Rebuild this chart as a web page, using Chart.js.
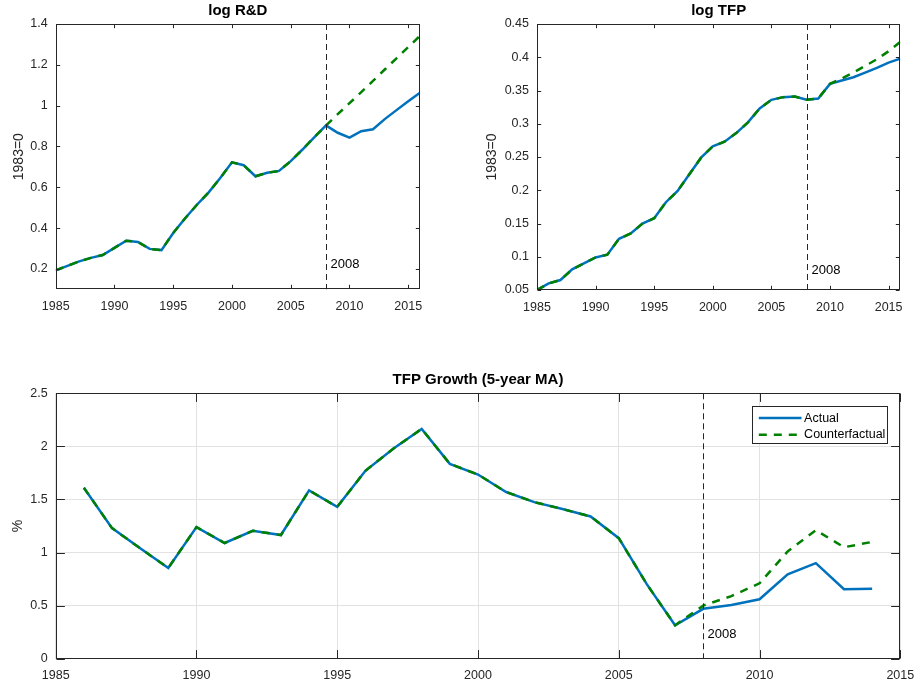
<!DOCTYPE html>
<html><head><meta charset="utf-8">
<script src="https://cdn.jsdelivr.net/npm/chart.js@4/dist/chart.umd.min.js"></script>
<style>
html,body{margin:0;padding:0;background:#fff;width:914px;height:685px;overflow:hidden;position:relative;}
canvas{position:absolute;}
#c1{left:0;top:0;} #c2{left:457px;top:0;} #c3{left:0;top:360px;}
</style></head><body>
<canvas id="c1" width="440" height="320"></canvas>
<canvas id="c2" width="457" height="320"></canvas>
<canvas id="c3" width="914" height="325"></canvas>
<script>
// ---------- data ----------
const years = [1985,1986,1987,1988,1989,1990,1991,1992,1993,1994,1995,1996,1997,1998,1999,2000,
               2001,2002,2003,2004,2005,2006,2007,2008,2009,2010,2011,2012,2013,2014,2015,2016];
const rdActual = [0.193,0.215,0.237,0.254,0.268,0.303,0.338,0.332,0.298,0.292,0.376,0.447,0.513,0.574,0.645,0.722,
                  0.708,0.654,0.671,0.680,0.728,0.785,0.845,0.903,0.867,0.843,0.875,0.884,0.934,0.978,1.022,1.063];
const rdCounterfactual = [0.193,0.215,0.237,0.254,0.268,0.303,0.338,0.332,0.298,0.292,0.376,0.447,0.513,0.574,0.645,0.722,
                  0.708,0.654,0.671,0.680,0.728,0.785,0.845,0.903,0.958,1.012,1.066,1.121,1.177,1.232,1.287,1.342];
const tfpActual = [0.050,0.060,0.065,0.081,0.090,0.099,0.103,0.127,0.135,0.150,0.158,0.182,0.199,0.224,0.249,0.266,
                   0.273,0.286,0.302,0.323,0.336,0.340,0.341,0.336,0.338,0.360,0.365,0.370,0.377,0.384,0.392,0.398];
const tfpCounterfactual = [0.050,0.060,0.065,0.081,0.090,0.099,0.103,0.127,0.135,0.150,0.158,0.182,0.199,0.224,0.249,0.266,
                   0.273,0.286,0.302,0.323,0.336,0.340,0.341,0.336,0.338,0.360,0.368,0.377,0.387,0.397,0.409,0.423];
const growthYears = [1986,1987,1988,1989,1990,1991,1992,1993,1994,1995,1996,1997,1998,1999,2000,
                     2001,2002,2003,2004,2005,2006,2007,2008,2009,2010,2011,2012,2013,2014];
const growthActual = [1.61,1.23,1.04,0.855,1.24,1.09,1.205,1.165,1.585,1.43,1.77,1.98,2.165,1.835,1.735,
                      1.57,1.475,1.41,1.34,1.135,0.70,0.315,0.47,0.505,0.56,0.795,0.90,0.655,0.66];
const growthCounterfactual = [1.61,1.23,1.04,0.855,1.24,1.09,1.205,1.165,1.585,1.43,1.77,1.98,2.165,1.835,1.735,
                      1.57,1.475,1.41,1.34,1.135,0.70,0.315,0.50,0.59,0.71,1.01,1.21,1.05,1.10];
const topXTicks = [1985,1990,1995,2000,2005,2010,2015];
const bottomXTicks = [1985,1990,1995,2000,2005,2010,2015];
const rdYTicks = [0.2,0.4,0.6,0.8,1,1.2,1.4];
const tfpYTicks = [0.05,0.1,0.15,0.2,0.25,0.3,0.35,0.4,0.45];
const growthYTicks = [0,0.5,1,1.5,2,2.5];
const breakYear = 2008;
const seriesNames = ['Actual','Counterfactual'];

// ---------- styling ----------
const FONT = '"Liberation Sans", Arial, Helvetica, sans-serif';
const BLUE = '#0072BD', GREEN = '#008000', AX = '#262626';
Chart.defaults.font.family = FONT;

const framePlugin = {
  id: 'frame',
  afterDatasetsDraw(chart, args, o) {
    const {ctx, chartArea: a} = chart;
    const x = chart.scales.x, y = chart.scales.y;
    ctx.save();
    // 2008 vertical line
    const px = Math.round(x.getPixelForValue(o.vline)) + 0.5;
    ctx.strokeStyle = AX; ctx.lineWidth = 1; ctx.setLineDash([6,4]);
    ctx.beginPath(); ctx.moveTo(px, a.top); ctx.lineTo(px, a.bottom); ctx.stroke();
    ctx.setLineDash([]);
    ctx.fillStyle = '#000'; ctx.font = '13px ' + FONT; ctx.textBaseline = 'middle'; ctx.textAlign = 'left';
    ctx.fillText(String(o.vline), px + 4, y.getPixelForValue(o.labelY));
    // box
    const L = Math.round(a.left)+0.5, R = Math.round(a.right)-0.5, T = Math.round(a.top)+0.5, B = Math.round(a.bottom)-0.5;
    ctx.strokeStyle = AX; ctx.lineWidth = 1;
    ctx.strokeRect(L, T, R-L, B-T);
    const tl = o.tickLen;
    ctx.beginPath();
    x.ticks.forEach(t => {
      const p = Math.round(x.getPixelForValue(t.value)) + 0.5;
      ctx.moveTo(p, B); ctx.lineTo(p, B - tl);
      ctx.moveTo(p, T); ctx.lineTo(p, T + tl);
    });
    y.ticks.forEach(t => {
      const p = Math.round(y.getPixelForValue(t.value)) + 0.5;
      ctx.moveTo(L, p); ctx.lineTo(L + tl, p);
      ctx.moveTo(R, p); ctx.lineTo(R - tl, p);
    });
    ctx.stroke();
    // legend
    if (o.legend) {
      const bw = 135, bh = 37;
      const bx = Math.round(a.right - 13.6 - bw) + 0.5, by = Math.round(a.top + 12.4) + 0.5;
      ctx.fillStyle = '#fff'; ctx.fillRect(bx, by, bw, bh);
      ctx.strokeStyle = AX; ctx.lineWidth = 1; ctx.strokeRect(bx, by, bw, bh);
      chart.data.datasets.slice().sort((d1,d2)=>d1.legendIndex-d2.legendIndex).forEach((ds, i) => {
        const yy = by + 11.6 + i * 16.7;
        ctx.strokeStyle = ds.borderColor; ctx.lineWidth = ds.borderWidth;
        ctx.setLineDash(ds.borderDash || []);
        ctx.beginPath(); ctx.moveTo(bx + 6.3, yy); ctx.lineTo(bx + 49, yy); ctx.stroke();
        ctx.setLineDash([]);
        ctx.fillStyle = '#000'; ctx.font = '12.5px ' + FONT; ctx.textBaseline = 'middle'; ctx.textAlign = 'left';
        ctx.fillText(ds.label, bx + 51.6, yy);
      });
    }
    ctx.restore();
  }
};

const fmt = v => String(+Number(v).toFixed(2));

function makeChart(id, cfg) {
  const pts = (xs, ys) => xs.map((xv, i) => ({x: xv, y: ys[i]}));
  return new Chart(document.getElementById(id), {
    type: 'line',
    data: {
      datasets: [
        {label: seriesNames[1], data: pts(cfg.xs, cfg.cf), borderColor: GREEN, borderWidth: 2.5,
         borderDash: [8,7], pointRadius: 0, tension: 0, fill: false, order: 0, legendIndex: 1},
        {label: seriesNames[0], data: pts(cfg.xs, cfg.act), borderColor: BLUE, borderWidth: 2.5,
         pointRadius: 0, tension: 0, fill: false, order: 1, legendIndex: 0}
      ]
    },
    options: {
      responsive: false, animation: false, devicePixelRatio: 1,
      layout: {padding: cfg.padding},
      plugins: {
        legend: {display: false}, tooltip: {enabled: false},
        title: {display: true, text: cfg.title, color: '#000', fullSize: false,
                font: {family: FONT, size: 15, weight: 'bold'}, padding: {top: 2, bottom: 4}},
        frame: {vline: breakYear, labelY: cfg.labelY, tickLen: cfg.tickLen, legend: cfg.legend}
      },
      scales: {
        x: {
          type: 'linear', min: cfg.xmin, max: cfg.xmax,
          grid: {display: cfg.grid, color: '#e2e2e2', drawTicks: false, lineWidth: 1},
          border: {display: false},
          ticks: {color: AX, font: {family: FONT, size: 12.5}, padding: cfg.xPad, maxRotation: 0, autoSkip: false, callback: fmt},
          afterBuildTicks: s => { s.ticks = cfg.xTicks.map(v => ({value: v})); },
          afterFit: s => { s.height = cfg.xH; s.paddingLeft = 0; s.paddingRight = 0; }
        },
        y: {
          type: 'linear', min: cfg.ymin, max: cfg.ymax,
          grid: {display: cfg.grid, color: '#e2e2e2', drawTicks: false, lineWidth: 1},
          border: {display: false},
          title: {display: true, text: cfg.ylabel, color: AX, font: {family: FONT, size: 14}, padding: {top: cfg.yTitlePad, bottom: 0}},
          ticks: {color: AX, font: {family: FONT, size: 12.5}, padding: 8, autoSkip: false, callback: fmt},
          afterBuildTicks: s => { s.ticks = cfg.yTicks.map(v => ({value: v})); },
          afterFit: s => { s.width = cfg.yW; s.paddingTop = 0; s.paddingBottom = 0; }
        }
      }
    },
    plugins: [framePlugin]
  });
}

makeChart('c1', {title: 'log R&D', xs: years, act: rdActual, cf: rdCounterfactual,
  xmin: 1985, xmax: 2016, ymin: 0.1, ymax: 1.4, xTicks: topXTicks, yTicks: rdYTicks,
  ylabel: '1983=0', yTitlePad: 10.5, yW: 55.7, xH: 30.7, xPad: 10, padding: {left: 0, right: 20, top: 0, bottom: 0},
  grid: false, labelY: 0.22, tickLen: 3.7, legend: false});

makeChart('c2', {title: 'log TFP', xs: years, act: tfpActual, cf: tfpCounterfactual,
  xmin: 1985, xmax: 2016, ymin: 0.05, ymax: 0.45, xTicks: topXTicks, yTicks: tfpYTicks,
  ylabel: '1983=0', yTitlePad: 27, yW: 80, xH: 30, xPad: 10, padding: {left: 0, right: 13.7, top: 0, bottom: 0},
  grid: false, labelY: 0.08, tickLen: 3.7, legend: false});

makeChart('c3', {title: 'TFP Growth (5-year MA)', xs: growthYears, act: growthActual, cf: growthCounterfactual,
  xmin: 1985, xmax: 2015, ymin: 0, ymax: 2.5, xTicks: bottomXTicks, yTicks: growthYTicks,
  ylabel: '%', yTitlePad: 10, yW: 55.7, xH: 26.3, xPad: 9, padding: {left: 0, right: 13.7, top: 9.3, bottom: 0},
  grid: true, labelY: 0.23, tickLen: 8.4, legend: true});
</script>
</body></html>
